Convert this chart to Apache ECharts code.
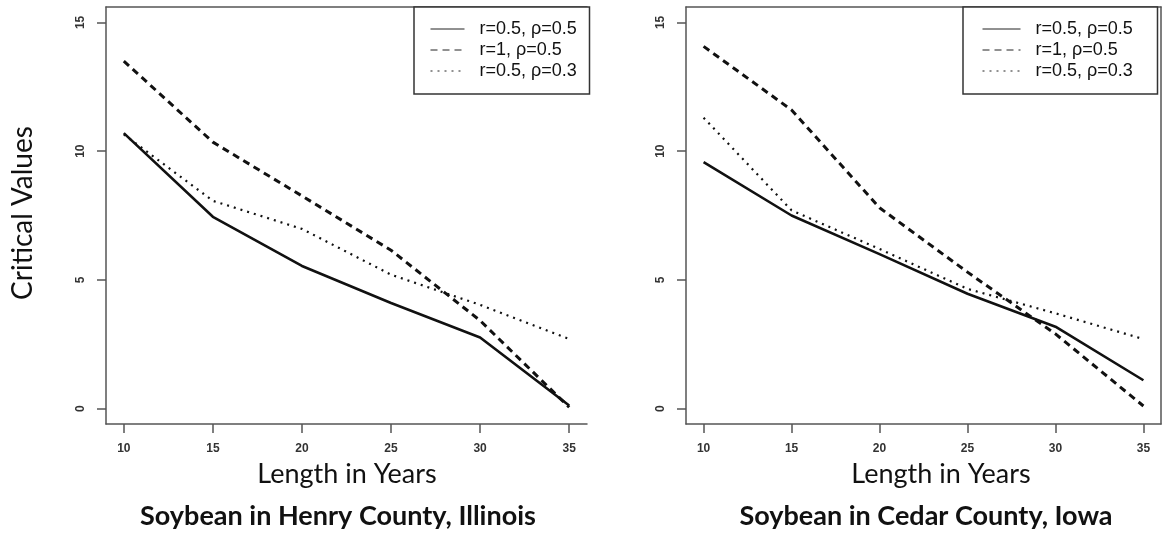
<!DOCTYPE html>
<html><head><meta charset="utf-8">
<script src="https://cdn.jsdelivr.net/npm/echarts@6/dist/echarts.min.js"></script>
<style>html,body{margin:0;padding:0;background:#fff}#c{width:1168px;height:535px}</style>
</head><body><div id="c"></div>
<script>
const years = [10, 15, 20, 25, 30, 35];
const seriesNames = ['r=0.5, ρ=0.5', 'r=1, ρ=0.5', 'r=0.5, ρ=0.3'];
const henrySolid  = [10.7, 7.45, 5.54, 4.1, 2.76, 0.12];
const henryDashed = [13.5, 10.35, 8.26, 6.15, 3.42, 0.05];
const henryDotted = [10.65, 8.07, 6.98, 5.2, 4.03, 2.7];
const cedarSolid  = [9.57, 7.5, 6.0, 4.46, 3.18, 1.1];
const cedarDashed = [14.07, 11.6, 7.8, 5.3, 2.9, 0.1];
const cedarDotted = [11.3, 7.7, 6.2, 4.65, 3.7, 2.7];
const xTicks = [10, 15, 20, 25, 30, 35];
const yTicks = [0, 5, 10, 15];
const xName = 'Length in Years';
const yName = 'Critical Values';
const panelTitles = ['Soybean in Henry County, Illinois', 'Soybean in Cedar County, Iowa'];

const AX = '#555';
const styles = [
  { width: 2.6, type: 'solid' },
  { width: 3, type: [7, 5] },
  { width: 2.2, type: [2, 5] }
];
function pts(arr) { return years.map((x, i) => [x, arr[i]]); }

function xAxisMain(g) {
  return {
    type: 'value', gridIndex: g, min: 9, max: 36, position: 'bottom',
    axisLine: { show: true, onZero: false, lineStyle: { color: AX, width: 1.5 } },
    axisTick: { show: true, customValues: xTicks, length: 9, lineStyle: { color: AX, width: 1.5 } },
    axisLabel: { customValues: xTicks, margin: 19, color: '#333', fontSize: 12, fontWeight: 'bold', fontFamily: 'Liberation Sans, Arial' },
    splitLine: { show: false }
  };
}
function xAxisTop(g) {
  return {
    type: 'value', gridIndex: g, min: 9, max: 36, position: 'top',
    axisLine: { show: true, onZero: false, lineStyle: { color: AX, width: 1.5 } },
    axisTick: { show: false }, axisLabel: { show: false }, splitLine: { show: false }
  };
}
function yAxisMain(g) {
  return {
    type: 'value', gridIndex: g, min: -0.6, max: 15.6, position: 'left',
    axisLine: { show: true, onZero: false, lineStyle: { color: AX, width: 1.5 } },
    axisTick: { show: true, customValues: yTicks, length: 9, lineStyle: { color: AX, width: 1.5 } },
    axisLabel: { customValues: yTicks, rotate: 90, margin: 19, color: '#333', fontSize: 12, fontWeight: 'bold', fontFamily: 'Liberation Sans, Arial' },
    splitLine: { show: false }
  };
}
function yAxisRight(g) {
  return {
    type: 'value', gridIndex: g, min: -0.6, max: 15.6, position: 'right',
    axisLine: { show: true, onZero: false, lineStyle: { color: AX, width: 1.5 } },
    axisTick: { show: false }, axisLabel: { show: false }, splitLine: { show: false }
  };
}
function mk(name, data, xi, yi, s) {
  return {
    type: 'line', name: name, data: pts(data), xAxisIndex: xi, yAxisIndex: yi,
    showSymbol: false, symbol: 'none', silent: true, animation: false,
    lineStyle: { color: '#111', width: s.width, type: s.type, cap: 'butt', join: 'round' },
    itemStyle: { color: '#111' }
  };
}
function legendAt(left, padL, iconW, textW) {
  return {
    show: true, orient: 'vertical', left: left, top: 7, data: seriesNames,
    itemWidth: iconW, itemHeight: 18, itemGap: 3,
    padding: [13, 0, 14, padL],
    borderColor: '#333', borderWidth: 1.5, backgroundColor: '#fff',
    selectedMode: false,
    itemStyle: { color: 'transparent', borderWidth: 0, opacity: 0 },
    lineStyle: { width: 1, color: '#222' },
    textStyle: { fontSize: 18, lineHeight: 18, width: textW, color: '#111', fontFamily: 'Liberation Sans, Arial', padding: [0, 0, 0, 10] }
  };
}

const chart = echarts.init(document.getElementById('c'), null, { renderer: 'canvas' });
const option = {
  animation: false,
  backgroundColor: '#fff',
  grid: [
    { left: 106, top: 7, width: 481, height: 417 },
    { left: 686, top: 7, width: 475, height: 417 }
  ],
  xAxis: [xAxisMain(0), xAxisTop(0), xAxisMain(1), xAxisTop(1)],
  yAxis: [yAxisMain(0), yAxisMain(1), yAxisRight(1)],
  legend: [legendAt(414, 16, 34, 110), legendAt(963, 19, 38, 122)],
  series: [
    mk(seriesNames[0], henrySolid, 0, 0, styles[0]),
    mk(seriesNames[1], henryDashed, 0, 0, styles[1]),
    mk(seriesNames[2], henryDotted, 0, 0, styles[2]),
    mk(seriesNames[0], cedarSolid, 2, 1, styles[0]),
    mk(seriesNames[1], cedarDashed, 2, 1, styles[1]),
    mk(seriesNames[2], cedarDotted, 2, 1, styles[2])
  ],
  graphic: [
    { type: 'text', x: 347, y: 474, style: { text: xName, font: '27px Lato', fill: '#111', textAlign: 'center', textVerticalAlign: 'middle' } },
    { type: 'text', x: 941, y: 474, style: { text: xName, font: '27px Lato', fill: '#111', textAlign: 'center', textVerticalAlign: 'middle' } },
    { type: 'text', x: 338, y: 516, style: { text: panelTitles[0], font: 'bold 27px Lato', fill: '#111', textAlign: 'center', textVerticalAlign: 'middle' } },
    { type: 'text', x: 926, y: 516, style: { text: panelTitles[1], font: 'bold 27px Lato', fill: '#111', textAlign: 'center', textVerticalAlign: 'middle' } },
    { type: 'text', x: 23, y: 213, rotation: Math.PI / 2, style: { text: yName, font: '28px Lato', fill: '#111', textAlign: 'center', textVerticalAlign: 'middle' } }
  ]
};
chart.setOption(option);
</script></body></html>
